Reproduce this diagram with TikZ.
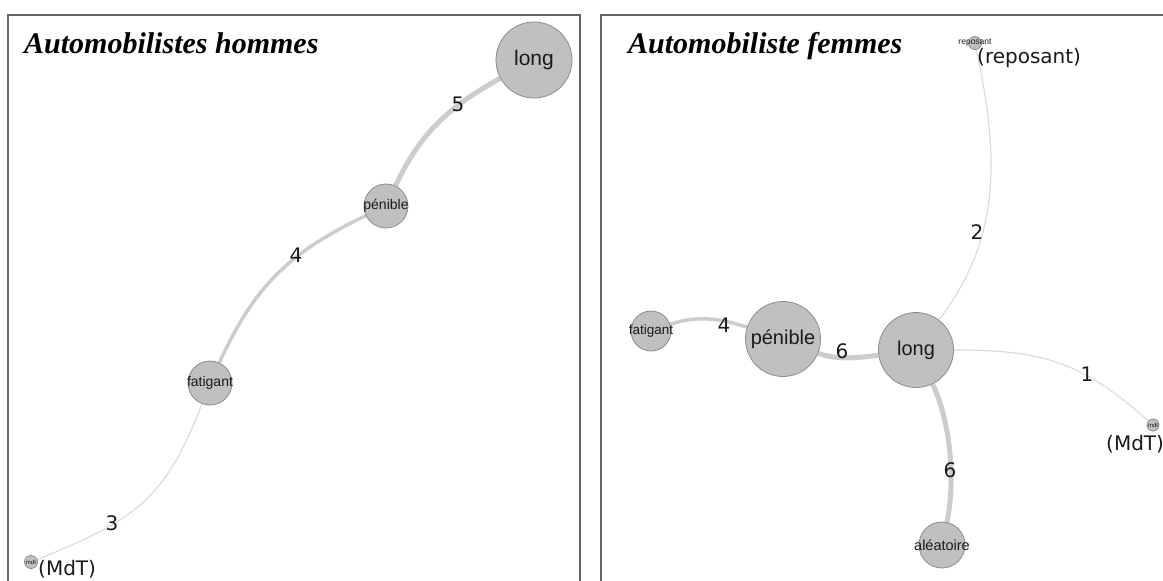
\documentclass[tikz,border=0pt]{standalone}
\usepackage{fontspec}
\setmainfont{Liberation Serif}
\newfontfamily\numfont{DejaVu Sans}
\newfontfamily\lblfont{Liberation Sans}
\usetikzlibrary{backgrounds}
\definecolor{nodefill}{HTML}{C0C0C0}
\definecolor{nodeline}{HTML}{8C8C8C}
\definecolor{edgecol}{HTML}{CCCCCC}
\definecolor{thinedge}{HTML}{DADADA}
\definecolor{framecol}{HTML}{666666}
\definecolor{txt}{HTML}{1A1A1A}
\tikzset{
  nd/.style={circle, fill=nodefill, draw=nodeline, line width=0.8pt, inner sep=0pt},
  lbl/.style={font=\lblfont\fontsize{#1}{#1}\selectfont, text=txt, inner sep=0pt},
  lbl/.default=14,
  num/.style={font=\numfont\fontsize{20}{20}\selectfont, text=txt, inner sep=0pt},
  side/.style={font=\numfont\fontsize{20}{20}\selectfont, text=txt, inner sep=0pt, anchor=west},
  title/.style={font=\bfseries\itshape\fontsize{30}{36}\selectfont, anchor=base west, inner sep=0pt},
  frame/.style={draw=framecol, line width=1.4pt},
  thick edge/.style={draw=edgecol, line width=5pt},
  mid edge/.style={draw=edgecol, line width=3.5pt},
  thin edge/.style={draw=thinedge, line width=1.1pt},
}
\begin{document}
\begin{tikzpicture}[x=1pt,y=-1pt]
\clip (0,0) rectangle (1163,581);
% frames
\draw[frame] (8,15) rectangle (580,600);
\draw[frame] (601,15) rectangle (1175,600);
% titles
\node[title] (t1) at (24,53) {Automobilistes hommes};
\node[title] (t2) at (628,53) {Automobiliste femmes};

% ---------- left panel ----------
\node[nd, minimum size=76pt, label={[lbl=21]center:long}] (Llong) at (534,60) {};
\node[nd, minimum size=44pt, label={[lbl=14]center:pénible}] (Lpen) at (386,206) {};
\node[nd, minimum size=44pt, label={[lbl=14]center:fatigant}] (Lfat) at (210,383) {};
\node[nd, minimum size=13pt, label={[lbl=6]center:mdt}] (Lmdt) at (31,562) {};
\node[side] (LmdtT) at (38,569) {(MdT)};

\begin{scope}[on background layer]
\fill[white] (0,0) rectangle (1163,581);
\draw[thick edge] (Llong) .. controls (444,109) and (418,138) .. (Lpen);
\draw[mid edge] (Lpen) .. controls (290,252) and (255,285) .. (Lfat);
\draw[thin edge] (Lfat) .. controls (165,500) and (135,520) .. (Lmdt);
\end{scope}
\node[num] (L5) at (458,104) {5};
\node[num] (L4) at (296,255) {4};
\node[num] (L3) at (112,523) {3};

% ---------- right panel ----------
\node[nd, minimum size=40pt, label={[lbl=13.5]center:fatigant}] (Rfat) at (651,331) {};
\node[nd, minimum size=75pt, label={[lbl=20]center:pénible}] (Rpen) at (783,339) {};
\node[nd, minimum size=75pt, label={[lbl=20]center:long}] (Rlong) at (916,350) {};
\node[nd, minimum size=46pt, label={[lbl=14.5]center:aléatoire}] (Rale) at (942,545) {};
\node[nd, minimum size=13pt, label={[lbl=8.5]center:reposant}] (Rrep) at (975,43) {};
\node[nd, minimum size=12pt, label={[lbl=6]center:mdt}] (Rmdt) at (1153,425) {};
\node[side] (RrepT) at (977,58) {(reposant)};
\node[side] (RmdtT) at (1106,444) {(MdT)};

\begin{scope}[on background layer]
\draw[mid edge] (Rfat) .. controls (700,314) and (725,320) .. (Rpen);
\draw[thick edge] (Rpen) .. controls (835,360) and (858,358) .. (Rlong);
\draw[thick edge] (Rlong) .. controls (950,420) and (956,480) .. (Rale);
\draw[thin edge] (Rrep) .. controls (1000,160) and (1000,240) .. (Rlong);
\draw[thin edge] (Rlong) .. controls (1040,350) and (1080,360) .. (Rmdt);
\end{scope}
\node[num] (R4) at (724,325) {4};
\node[num] (R6a) at (842,351) {6};
\node[num] (R2) at (977,232) {2};
\node[num] (R1) at (1087,374) {1};
\node[num] (R6b) at (950,470) {6};
\end{tikzpicture}
\end{document}
